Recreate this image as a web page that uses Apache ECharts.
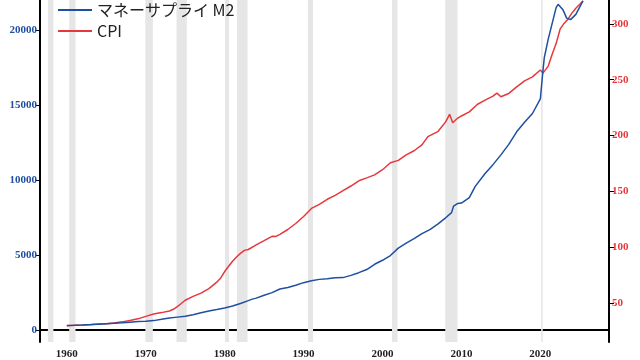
<!DOCTYPE html>
<html><head><meta charset="utf-8">
<script src="https://cdn.jsdelivr.net/npm/echarts@6/dist/echarts.min.js"></script>
<style>html,body{margin:0;padding:0;background:#fff}#c{width:640px;height:360px}</style>
</head><body><div id="c"></div>
<script>
const m2Dates = [1960,1961,1962,1963,1964,1965,1966,1967,1968,1969,1970,1971,1972,1973,1974,1975,1976,1977,1978,1979,1980,1981,1982,1983,1983.5,1984,1985,1986,1987,1988,1989,1990,1991,1992,1993,1994,1995,1996,1997,1998,1999,2000,2001,2002,2003,2004,2005,2006,2007,2008,2008.75,2009,2009.5,2010,2011,2011.75,2012,2013,2014,2015,2016,2017,2018,2019,2020,2020.17,2020.33,2020.5,2021,2021.5,2022,2022.25,2022.5,2022.83,2023,2023.33,2023.83,2024,2024.5,2025,2025.4];
const m2Values = [298,312,335,362,393,425,459,481,526,569,588,628,713,805,861,912,1025,1152,1271,1366,1473,1600,1765,1960,2060,2127,2315,2496,2738,2834,2990,3159,3286,3378,3414,3486,3496,3644,3825,4036,4386,4652,4968,5460,5798,6090,6434,6697,7057,7484,7830,8260,8430,8470,8830,9580,9700,10440,11030,11680,12380,13220,13860,14440,15410,15500,17300,18160,19400,20450,21500,21720,21650,21380,21200,20800,20700,20800,21050,21550,21950];
const cpiDates = [1960,1961,1962,1963,1964,1965,1966,1967,1968,1969,1970,1971,1972,1973,1973.5,1974,1974.5,1975,1976,1977,1978,1979,1979.5,1980,1980.5,1981,1981.5,1982,1982.5,1983,1984,1985,1986,1986.5,1987,1988,1989,1990,1990.75,1991,1992,1993,1994,1995,1996,1997,1998,1999,2000,2001,2002,2003,2004,2005,2005.75,2006,2007,2008,2008.5,2008.9,2009,2009.5,2010,2011,2012,2013,2014,2014.5,2015,2016,2017,2018,2019,2020,2020.33,2021,2021.5,2022,2022.5,2023,2023.5,2024,2024.5,2025,2025.4];
const cpiValues = [29.4,29.8,30.0,30.4,30.9,31.3,31.9,32.9,34.1,35.6,37.8,39.9,41.2,42.7,44.2,46.6,49.4,52.3,55.8,58.7,62.7,68.5,72.3,78.0,82.7,87.2,91.0,94.3,97.0,97.8,101.9,105.7,109.6,109.5,111.4,115.7,121.1,127.4,132.8,134.6,138.3,142.8,146.3,150.5,154.7,159.4,162.0,164.7,169.3,175.6,177.7,182.6,186.3,191.6,199.0,199.3,203.4,212.2,219.0,211.4,211.9,215.4,217.5,221.2,227.8,231.7,235.3,238.0,234.7,237.7,243.6,248.9,252.6,258.7,255.9,262.2,272.9,282.4,295.3,300.5,304.3,309.7,314.1,317.6,320.6];
const recessionStart = [1957.6,1960.3,1969.95,1973.9,1980.05,1981.55,1990.55,2001.2,2007.95,2020.1];
const recessionEnd   = [1958.3,1961.1,1970.9,1975.2,1980.55,1982.9,1991.2,2001.9,2009.5,2020.3];
const xTicks = [1960,1970,1980,1990,2000,2010,2020];
const leftTicks = [0,5000,10000,15000,20000];
const rightTicks = [50,100,150,200,250,300];
const seriesNames = ['マネーサプライ M2','CPI'];

const BLUE = '#1f4fa0', RED = '#e5383d';
const plain = v => String(v);
const labelFont = {fontFamily:'Liberation Serif', fontWeight:'bold', fontSize:11, formatter:plain};
const chart = echarts.init(document.getElementById('c'), null, {renderer:'canvas'});
chart.setOption({
  animation:false,
  grid:{left:40, right:31, top:0, bottom:17, containLabel:false},
  legend:{
    data:seriesNames, orient:'vertical', left:53, top:-3, itemWidth:34, itemHeight:2,
    itemGap:5, itemTextGap:10, icon:'rect',
    textStyle:{fontFamily:'Noto Sans CJK JP', fontSize:16, color:'#222', lineHeight:16}
  },
  xAxis:{
    type:'value', min:1956.6, max:2028.7,
    axisLine:{lineStyle:{color:'#000', width:2}},
    axisTick:{show:false},
    splitLine:{show:false},
    axisLabel:Object.assign({customValues:xTicks, color:'#222', margin:7}, labelFont)
  },
  yAxis:[{
    type:'value', min:-798, max:22008, position:'left',
    axisLine:{show:true, lineStyle:{color:'#000', width:2}},
    axisTick:{show:true, length:5, customValues:leftTicks, lineStyle:{color:'#000', width:1}},
    splitLine:{show:false},
    axisLabel:Object.assign({customValues:leftTicks, color:BLUE, margin:3}, labelFont)
  },{
    type:'value', min:14.85, max:321.47, position:'right',
    axisLine:{show:true, lineStyle:{color:'#000', width:2}},
    axisTick:{show:true, length:5, customValues:rightTicks, lineStyle:{color:'#000', width:1}},
    splitLine:{show:false},
    axisLabel:Object.assign({customValues:rightTicks, color:RED, margin:3}, labelFont)
  }],
  series:[{
    name:'recession', type:'line', data:[], z:0, silent:true,
    markArea:{silent:true, itemStyle:{color:'#e6e6e6'},
      data:recessionStart.map((s,i)=>[{xAxis:s},{xAxis:recessionEnd[i]}])}
  },{
    name:seriesNames[0], type:'line', yAxisIndex:0, showSymbol:false, z:3,
    lineStyle:{color:BLUE, width:1.5}, itemStyle:{color:BLUE},
    data:m2Dates.map((d,i)=>[d,m2Values[i]])
  },{
    name:seriesNames[1], type:'line', yAxisIndex:1, showSymbol:false, z:2,
    lineStyle:{color:RED, width:1.5}, itemStyle:{color:RED},
    data:cpiDates.map((d,i)=>[d,cpiValues[i]])
  }]
});
</script></body></html>
